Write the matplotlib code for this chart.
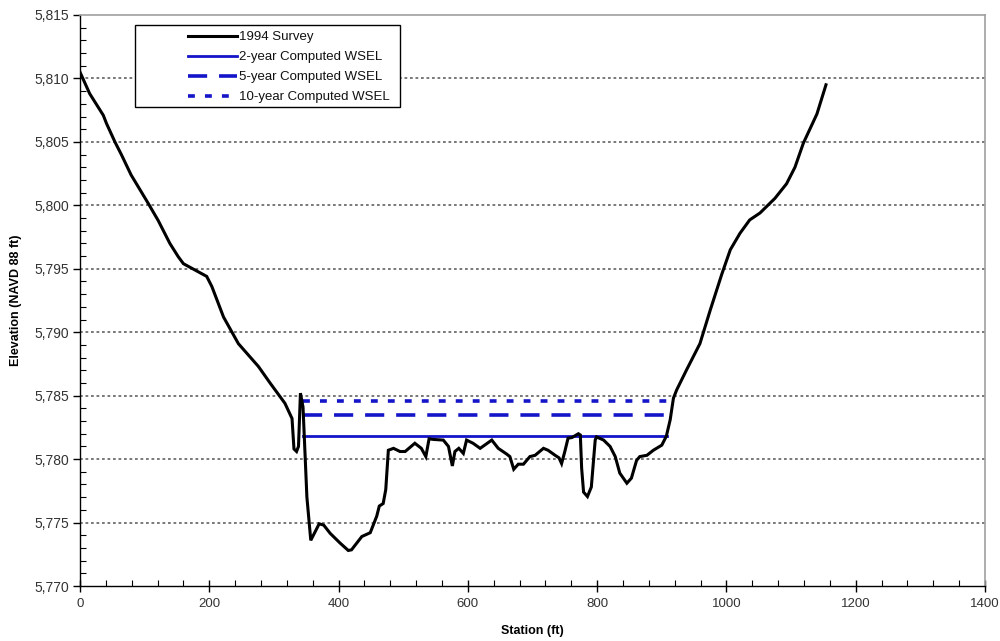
# cross section plot: 1994 survey ground line with computed water surface elevations
import matplotlib
matplotlib.use('Agg')
import matplotlib.pyplot as plt
from matplotlib.patches import Rectangle
from matplotlib.ticker import FuncFormatter, MultipleLocator

# surveyed ground profile
station = [0, 15, 36, 41, 54, 64, 79, 105, 121, 139, 152, 160, 178, 196, 204, 222,
           245, 276, 294, 317, 328, 331, 335, 338, 341, 345, 351, 357, 370, 377, 387,
           402, 415, 420, 436, 449, 459, 463, 469, 473, 477, 485, 495, 503, 518, 528,
           535, 540, 547, 562, 570, 576, 580, 586, 593, 598, 608, 619, 637, 647, 660,
           665, 671, 678, 686, 696, 704, 717, 724, 735, 741, 745, 750, 755, 761, 771,
           774, 776, 779, 785, 791, 797, 799, 810, 820, 828, 835, 846, 853, 861, 866,
           877, 887, 900, 907, 913, 918, 923, 938, 959, 975, 993, 1006, 1021, 1036,
           1052, 1075, 1093, 1106, 1119, 1140, 1154]
elevation = [5810.5, 5808.8, 5807.1, 5806.45, 5805.0, 5804.0, 5802.4, 5800.2, 5798.8,
             5797.0, 5795.95, 5795.4, 5794.9, 5794.4, 5793.6, 5791.2, 5789.1, 5787.3,
             5786.0, 5784.4, 5783.2, 5780.8, 5780.6, 5781.0, 5785.2, 5784.1, 5777.0,
             5773.6, 5774.9, 5774.8, 5774.15, 5773.4, 5772.8, 5772.85, 5773.9, 5774.2,
             5775.5, 5776.3, 5776.5, 5777.6, 5780.7, 5780.85, 5780.6, 5780.6, 5781.25,
             5780.85, 5780.2, 5781.6, 5781.55, 5781.5, 5781.0, 5779.46, 5780.6, 5780.85,
             5780.45, 5781.5, 5781.25, 5780.85, 5781.5, 5780.85, 5780.4, 5780.2, 5779.2,
             5779.6, 5779.6, 5780.2, 5780.3, 5780.85, 5780.7, 5780.3, 5780.1, 5779.65,
             5780.6, 5781.65, 5781.7, 5782.0, 5781.9, 5779.3, 5777.4, 5777.05, 5777.8,
             5781.5, 5781.75, 5781.5, 5781.0, 5780.2, 5778.9, 5778.1, 5778.5, 5779.9,
             5780.2, 5780.3, 5780.7, 5781.1, 5781.8, 5783.1, 5784.8, 5785.45, 5787.0,
             5789.1, 5791.75, 5794.6, 5796.5, 5797.8, 5798.85, 5799.4, 5800.55, 5801.7,
             5803.0, 5804.9, 5807.2, 5809.5]

# computed WSEL: (label, elevation, start station, end station)
wsel_labels = ["2-year Computed WSEL", "5-year Computed WSEL", "10-year Computed WSEL"]
wsel_elev = [5781.8, 5783.5, 5784.6]
wsel_start = [345, 345, 345]
wsel_end = [908, 915, 918]

blue = "#1414c8"
wsel_styles = ["-", (0, (5.3, 3.3)), (0, (1.9, 2.8))]
wsel_widths = [2.0, 2.6, 2.6]

plt.rcParams['font.family'] = ['Liberation Sans', 'DejaVu Sans']

fig = plt.figure(figsize=(10, 6.41), dpi=100)
ax = fig.add_axes([0.08, 0.0858, 0.905, 0.8908])

ax.plot(station, elevation, color="black", lw=2.2, label="1994 Survey",
        solid_joinstyle="miter", zorder=3)
for lab, el, s0, s1, ls, lw in zip(wsel_labels, wsel_elev, wsel_start, wsel_end,
                                   wsel_styles, wsel_widths):
    ax.plot([s0, s1], [el, el], color=blue, ls=ls, lw=lw, label=lab, zorder=2)

ax.set_xlim(0, 1400)
ax.set_ylim(5770, 5815)
ax.xaxis.set_major_locator(MultipleLocator(200))
ax.xaxis.set_minor_locator(MultipleLocator(40))
ax.yaxis.set_major_locator(MultipleLocator(5))
ax.yaxis.set_minor_locator(MultipleLocator(1))
ax.yaxis.set_major_formatter(FuncFormatter(lambda v, p: f"{v:,.0f}"))

# dotted horizontal grid, skipping the axis limits
for g in range(5775, 5815, 5):
    ax.axhline(g, color="#555555", lw=1.1, ls=(0, (1.8, 1.8)), zorder=1)

ax.tick_params(axis="x", which="major", direction="inout", length=9, width=1,
               labelsize=9.5, labelcolor="#333333", pad=4)
ax.tick_params(axis="x", which="minor", direction="in", length=4, width=0.8)
ax.tick_params(axis="y", which="major", direction="out", length=5, width=1,
               labelsize=10, labelcolor="#333333", pad=3)
ax.tick_params(axis="y", which="minor", direction="in", length=4, width=0.8)

for side in ["top", "right"]:
    ax.spines[side].set_color("#a0a0a0")
    ax.spines[side].set_linewidth(1.2)
for side in ["left", "bottom"]:
    ax.spines[side].set_color("black")
    ax.spines[side].set_linewidth(1.0)

lab_font = dict(family=['Liberation Sans Narrow', 'Liberation Sans', 'DejaVu Sans'],
                weight="bold", size=9)
ax.set_xlabel("Station (ft)", labelpad=11, **lab_font)
ax.set_ylabel("Elevation (NAVD 88 ft)", labelpad=9, **lab_font)

# legend box drawn separately so the entries sit inset from its left edge
box = Rectangle((0.135, 1 - 107 / 641), 0.265, 82 / 641, transform=fig.transFigure,
                facecolor="white", edgecolor="black", lw=1.0, zorder=6, clip_on=False)
ax.add_patch(box)
leg = ax.legend(loc="upper left", bbox_to_anchor=(0.188, 1 - 31 / 641),
                bbox_transform=fig.transFigure, borderaxespad=0, borderpad=0,
                frameon=False, fontsize=9.5, handlelength=3.7, handletextpad=0.15,
                labelspacing=0.59)
leg.set_zorder(7)
for t in leg.get_texts():
    t.set_color("#111111")

fig.savefig("out.png", dpi=100)
